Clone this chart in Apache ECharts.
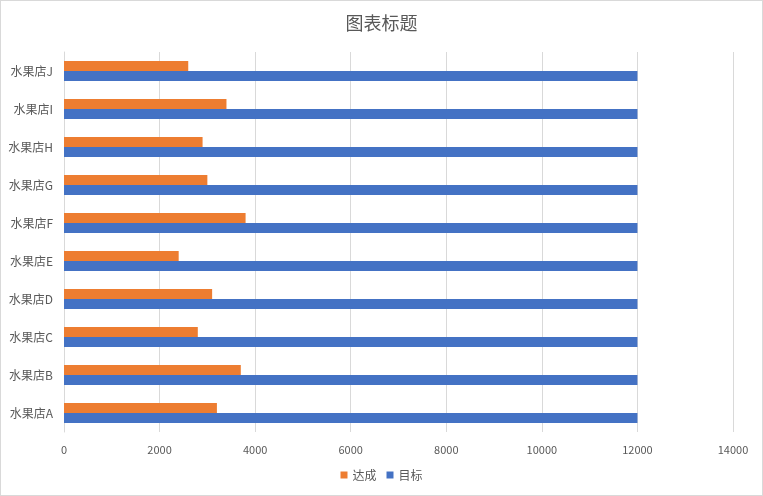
<!DOCTYPE html>
<html>
<head>
<meta charset="utf-8">
<script src="https://cdn.jsdelivr.net/npm/echarts@6/dist/echarts.min.js"></script>
<style>
html, body { margin: 0; padding: 0; background: #fff; }
#chart { width: 761px; height: 494px; border: 1px solid #d9d9d9; }
</style>
</head>
<body>
<div id="chart"></div>
<script>
// 数据
var stores = ['水果店A', '水果店B', '水果店C', '水果店D', '水果店E', '水果店F', '水果店G', '水果店H', '水果店I', '水果店J'];
var done = [3200, 3700, 2800, 3100, 2400, 3800, 3000, 2900, 3400, 2600];
var target = [12000, 12000, 12000, 12000, 12000, 12000, 12000, 12000, 12000, 12000];
var xTicks = [0, 14000, 2000];  // min, max, interval

var font = '"Noto Sans CJK SC", "Microsoft YaHei", sans-serif';
var mychart = echarts.init(document.getElementById('chart'));
var option = {
    textStyle: { fontFamily: font },
    title: {
        text: '图表标题',
        left: 'center',
        top: 8,
        textStyle: { color: '#595959', fontSize: 18, fontWeight: 'normal', fontFamily: font }
    },
    legend: {
        data: ['达成', '目标'],
        bottom: 9,
        itemWidth: 7,
        itemHeight: 7,
        itemGap: 10,
        icon: 'rect',
        textStyle: { color: '#595959', fontSize: 12, fontFamily: font }
    },
    grid: { left: 63, right: 29, top: 51, bottom: 63 },
    xAxis: {
        type: 'value',
        min: xTicks[0],
        max: xTicks[1],
        interval: xTicks[2],
        axisLine: { show: false },
        axisTick: { show: false },
        axisLabel: {
            color: '#595959', fontSize: 11, margin: 12, fontFamily: font,
            formatter: function (v) { return String(v); }
        },
        splitLine: { lineStyle: { color: '#d9d9d9' } }
    },
    yAxis: {
        type: 'category',
        data: stores,
        axisLine: { lineStyle: { color: '#d9d9d9' } },
        axisTick: { show: false },
        axisLabel: { color: '#595959', fontSize: 12, margin: 11, fontFamily: font }
    },
    series: [
        {
            name: '达成',
            type: 'bar',
            data: done,
            itemStyle: { color: '#ed7d31' },
            barGap: '0%',
            barCategoryGap: '47%'
        },
        {
            name: '目标',
            type: 'bar',
            data: target,
            itemStyle: { color: '#4472c4' },
            barGap: '0%',
            barCategoryGap: '47%'
        }
    ]
};
mychart.setOption(option);
</script>
</body>
</html>
